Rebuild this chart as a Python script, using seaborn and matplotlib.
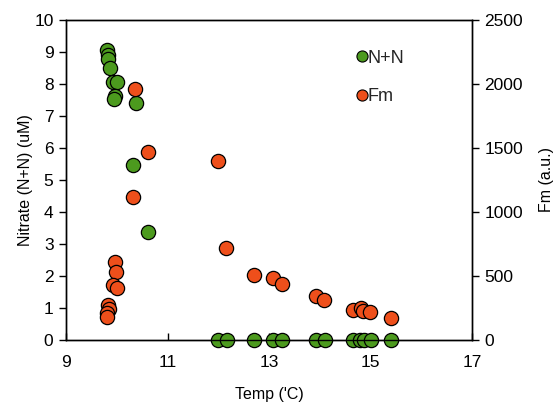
import matplotlib
matplotlib.use("Agg")
import matplotlib.pyplot as plt
import seaborn as sns
import pandas as pd
from matplotlib.lines import Line2D

# N+N series
temp_nn = [9.81, 9.83, 9.82, 9.86, 9.93, 10.00, 9.96, 9.95, 10.37, 10.32, 10.62,
           11.99, 12.17, 12.70, 13.08, 13.26, 13.93, 14.10, 14.65, 14.80, 14.87, 15.00, 15.40]
nitrate = [9.06, 8.92, 8.78, 8.50, 8.07, 8.07, 7.63, 7.52, 7.40, 5.47, 3.39,
           0, 0, 0, 0, 0, 0, 0, 0, 0, 0, 0, 0]

# Fm series
temp_fm = [9.97, 9.99, 9.92, 10.01, 9.83, 9.85, 9.80, 9.81, 10.33, 10.36, 10.62,
           11.99, 12.15, 12.70, 13.08, 13.25, 13.93, 14.08, 14.66, 14.81, 14.86, 14.99, 15.40]
fm = [612, 534, 430, 403, 273, 245, 208, 178, 1120, 1960, 1470,
      1398, 716, 508, 487, 434, 342, 312, 234, 247, 230, 216, 169]

x_ticks = [9, 11, 13, 15, 17]
y_ticks = list(range(0, 11))
y2_ticks = [0, 500, 1000, 1500, 2000, 2500]

green = "#4c9a1e"
orange = "#ee4f1b"

sns.set_theme(style="white")
plt.rcParams['font.family'] = ['Liberation Sans', 'DejaVu Sans']

fig, ax = plt.subplots(figsize=(5.59, 4.07), dpi=100)
fig.subplots_adjust(left=66/559, right=472/559, top=1-20/407, bottom=1-340/407)
ax2 = ax.twinx()

df_nn = pd.DataFrame({"temp": temp_nn, "nn": nitrate})
df_fm = pd.DataFrame({"temp": temp_fm, "fm": fm})

sns.scatterplot(data=df_nn, x="temp", y="nn", ax=ax, color=green, s=105,
                edgecolor="black", linewidth=0.9, legend=False, clip_on=False, zorder=3)
sns.scatterplot(data=df_fm, x="temp", y="fm", ax=ax2, color=orange, s=105,
                edgecolor="black", linewidth=0.9, legend=False, clip_on=False, zorder=3)

ax.set_xlim(9, 17)
ax.set_ylim(0, 10)
ax2.set_ylim(0, 2500)
ax.set_xticks(x_ticks)
ax.set_yticks(y_ticks)
ax2.set_yticks(y2_ticks)

for a in (ax, ax2):
    for s in a.spines.values():
        s.set_color("black")
        s.set_linewidth(1.0)

ax.tick_params(axis="y", direction="out", length=5, width=1, colors="black",
               labelsize=12.5, left=True, pad=4)
ax.tick_params(axis="x", direction="in", length=5, width=1, colors="black",
               labelsize=12.5, bottom=True, pad=11)
ax2.tick_params(axis="y", direction="out", length=5, width=1, colors="black",
                labelsize=12.5, right=True, pad=4)

ax.set_xlabel("Temp ('C)", fontsize=11.5, color="black", labelpad=12)
ax.set_ylabel("Nitrate (N+N) (uM)", fontsize=11.5, color="black", labelpad=1)
ax2.set_ylabel("Fm (a.u.)", fontsize=11.5, color="black", rotation=90, labelpad=11)

handles = [
    Line2D([], [], marker="o", linestyle="", markerfacecolor=green,
           markeredgecolor="black", markeredgewidth=0.8, markersize=8),
    Line2D([], [], marker="o", linestyle="", markerfacecolor=orange,
           markeredgecolor="black", markeredgewidth=0.8, markersize=8),
]
ax2.legend(handles, ["N+N", "Fm"], loc="upper left", bbox_to_anchor=(0.685, 0.93),
           frameon=False, fontsize=13, handletextpad=-0.3, handlelength=1.2,
           labelspacing=1.2, borderaxespad=0)

fig.savefig("out.png", dpi=100)
